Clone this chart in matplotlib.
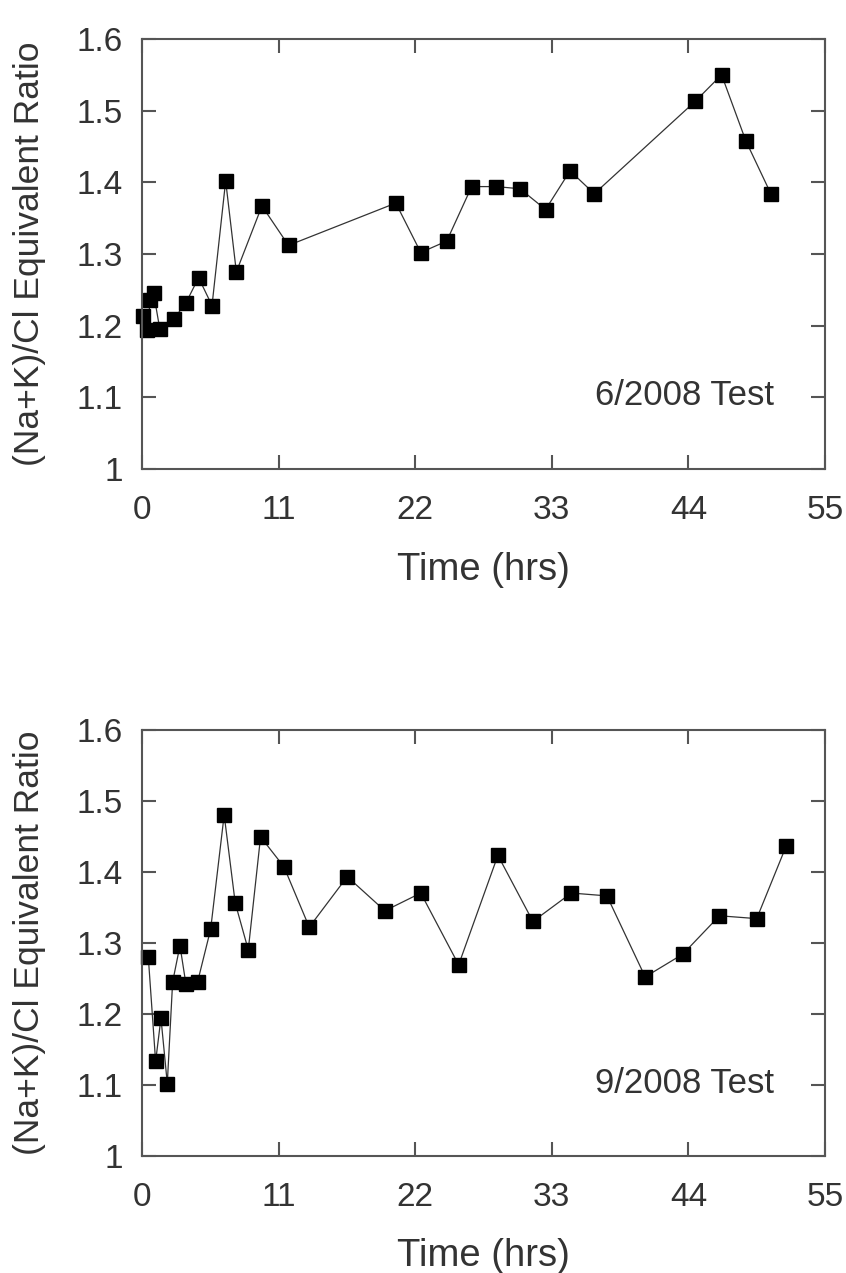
import matplotlib
matplotlib.use("Agg")
import matplotlib.pyplot as plt

plt.rcParams['font.family'] = ['Liberation Sans', 'DejaVu Sans']

# 6/2008 test
time_jun = [0.09, 0.4, 0.68, 0.94, 1.43, 2.55, 3.55, 4.56, 5.64, 6.74, 7.6, 9.66,
            11.8, 20.44, 22.45, 24.54, 26.55, 28.5, 30.44, 32.5, 34.47, 36.42,
            44.55, 46.67, 48.62, 50.64]
ratio_jun = [1.214, 1.194, 1.236, 1.245, 1.196, 1.209, 1.232, 1.267, 1.228, 1.402,
             1.275, 1.367, 1.312, 1.371, 1.302, 1.318, 1.394, 1.394, 1.391, 1.362,
             1.416, 1.384, 1.513, 1.550, 1.458, 1.384]

# 9/2008 test
time_sep = [0.51, 1.1, 1.53, 2.04, 2.47, 3.06, 3.54, 4.48, 5.53, 6.62, 7.51, 8.56,
            9.55, 11.43, 13.47, 16.53, 19.56, 22.45, 25.5, 28.66, 31.48, 34.57,
            37.44, 40.52, 43.55, 46.5, 49.5, 51.87]
ratio_sep = [1.280, 1.133, 1.194, 1.102, 1.245, 1.296, 1.242, 1.245, 1.319, 1.480,
             1.356, 1.290, 1.449, 1.407, 1.322, 1.393, 1.345, 1.370, 1.269, 1.423,
             1.330, 1.370, 1.366, 1.252, 1.284, 1.338, 1.334, 1.436]

x_ticks = [0, 11, 22, 33, 44, 55]
y_ticks = [1.0, 1.1, 1.2, 1.3, 1.4, 1.5, 1.6]
y_tick_labels = ['1', '1.1', '1.2', '1.3', '1.4', '1.5', '1.6']

panels = [
    (time_jun, ratio_jun, '6/2008 Test', [0.1678, 0.6316, 0.8074, 0.3378]),
    (time_sep, ratio_sep, '9/2008 Test', [0.1678, 0.0919, 0.8074, 0.3350]),
]

fig = plt.figure(figsize=(8.46, 12.73), dpi=100)
grey = '#555555'
text_c = '#333333'

for t, r, name, rect in panels:
    ax = fig.add_axes(rect)
    ax.plot(t, r, color='#333333', lw=0.9, marker='s', markersize=10.5,
            markerfacecolor='black', markeredgecolor='black', clip_on=False)
    ax.set_xlim(0, 55)
    ax.set_ylim(1.0, 1.6)
    ax.set_xticks(x_ticks)
    ax.set_yticks(y_ticks)
    ax.set_yticklabels(y_tick_labels)
    for s in ax.spines.values():
        s.set_color(grey)
        s.set_linewidth(1.5)
    ax.tick_params(direction='in', length=10, width=1.5, color=grey,
                   top=True, right=True, labelsize=24, labelcolor=text_c)
    ax.tick_params(axis='x', pad=19)
    ax.tick_params(axis='y', pad=14)
    ax.set_xlabel('Time (hrs)', fontsize=27.5, color=text_c, va='center')
    ax.xaxis.set_label_coords(0.5, -0.235)
    ax.set_ylabel('(Na+K)/Cl Equivalent Ratio', fontsize=25.5, color=text_c, va='center')
    ax.yaxis.set_label_coords(-0.164, 0.5)
    ax.text(0.925, 0.17, name, transform=ax.transAxes, ha='right', va='center',
            fontsize=25, color=text_c)

fig.savefig('out.png', dpi=100)
